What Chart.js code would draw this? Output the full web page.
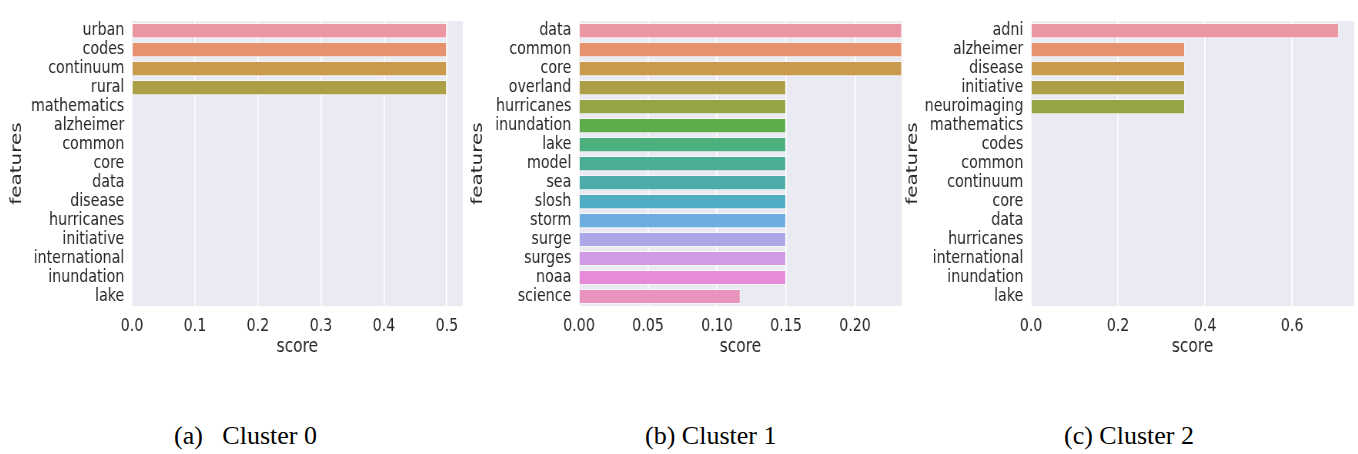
<!DOCTYPE html>
<html>
<head>
<meta charset="utf-8">
<script src="https://cdn.jsdelivr.net/npm/chart.js@4.4.0/dist/chart.umd.min.js"></script>
<style>
    body { margin: 0; background: #fff; width: 1358px; height: 454px; position: relative; overflow: hidden; }
    canvas { position: absolute; top: 0; transform-origin: 0 0; }
    .cap { position: absolute; top: 423px; font: 26px 'Liberation Serif', 'Times New Roman', serif; line-height: 26px; white-space: pre; color: #000; }
</style>
</head>
<body>
<canvas id="c0"></canvas>
<canvas id="c1"></canvas>
<canvas id="c2"></canvas>
<div class="cap" style="left:174px">(a)   Cluster 0</div>
<div class="cap" style="left:645px">(b) Cluster 1</div>
<div class="cap" style="left:1064px">(c) Cluster 2</div>
<script>
// ==================== DATA ====================

const features0 = ['urban', 'codes', 'continuum', 'rural', 'mathematics', 'alzheimer', 'common', 'core',
    'data', 'disease', 'hurricanes', 'initiative', 'international', 'inundation', 'lake'];
const scores0 = [0.5, 0.5, 0.5, 0.5, 0, 0, 0, 0, 0, 0, 0, 0, 0, 0, 0];
const ticks0 = [0, 0.1, 0.2, 0.3, 0.4, 0.5];
const tickLabels0 = ['0.0', '0.1', '0.2', '0.3', '0.4', '0.5'];

const features1 = ['data', 'common', 'core', 'overland', 'hurricanes', 'inundation', 'lake', 'model',
    'sea', 'slosh', 'storm', 'surge', 'surges', 'noaa', 'science'];
const scores1 = [0.234, 0.234, 0.234, 0.15, 0.15, 0.15, 0.15, 0.15, 0.15, 0.15, 0.15, 0.15, 0.15, 0.15, 0.117];
const ticks1 = [0, 0.05, 0.1, 0.15, 0.2];
const tickLabels1 = ['0.00', '0.05', '0.10', '0.15', '0.20'];

const features2 = ['adni', 'alzheimer', 'disease', 'initiative', 'neuroimaging', 'mathematics', 'codes',
    'common', 'continuum', 'core', 'data', 'hurricanes', 'international', 'inundation', 'lake'];
const scores2 = [0.7071, 0.3536, 0.3536, 0.3536, 0.3536, 0, 0, 0, 0, 0, 0, 0, 0, 0, 0];
const ticks2 = [0, 0.2, 0.4, 0.6];
const tickLabels2 = ['0.0', '0.2', '0.4', '0.6'];

const xMax = [0.525, 0.234, 0.7425];

const palette = ['#ea96a3', '#e6926e', '#c99a4b', '#ad9e48', '#95a445', '#5ead4b', '#4baf7e', '#4cad96',
    '#4dabaa', '#50acc2', '#6daee0', '#aca8e8', '#d09ae5', '#e78bd9', '#e994bf'];

// ==================== LAYOUT ====================

// the figure is squeezed horizontally, so draw wide and scale down in x
const SQUEEZE = 0.77;
const H = 380;
const PLOT_TOP = 5;
const PLOT_BOTTOM = 306;

const panels = [
    { id: 'c0', left: 4,   plotLeft: 132,  plotRight: 463,  right: 465,  labels: features0, values: scores0, ticks: ticks0, tickLabels: tickLabels0, max: xMax[0] },
    { id: 'c1', left: 465, plotLeft: 579,  plotRight: 902,  right: 904,  labels: features1, values: scores1, ticks: ticks1, tickLabels: tickLabels1, max: xMax[1] },
    { id: 'c2', left: 900, plotLeft: 1031, plotRight: 1354, right: 1358, labels: features2, values: scores2, ticks: ticks2, tickLabels: tickLabels2, max: xMax[2] }
];

const plotBg = {
    id: 'plotBg',
    beforeDraw(chart) {
        const { ctx, chartArea: a } = chart;
        ctx.save();
        ctx.fillStyle = '#eaeaf2';
        ctx.fillRect(a.left, a.top, a.width, a.height);
        ctx.restore();
    }
};

function makePanel(p) {
    const canvas = document.getElementById(p.id);
    canvas.width = Math.round((p.right - p.left) / SQUEEZE);
    canvas.height = H;
    canvas.style.left = p.left + 'px';
    canvas.style.transform = 'scaleX(' + SQUEEZE + ')';

    const yWidth = (p.plotLeft - p.left) / SQUEEZE;
    const padRight = (p.right - p.plotRight) / SQUEEZE;

    new Chart(canvas.getContext('2d'), {
        type: 'bar',
        data: {
            labels: p.labels,
            datasets: [{
                data: p.values,
                backgroundColor: palette,
                borderColor: 'rgba(255,255,255,0.55)',
                borderWidth: 1,
                barPercentage: 0.8,
                categoryPercentage: 1
            }]
        },
        options: {
            indexAxis: 'y',
            responsive: false,
            animation: false,
            layout: { padding: { top: PLOT_TOP, right: padRight, left: 0, bottom: 0 } },
            plugins: { legend: { display: false }, tooltip: { enabled: false } },
            scales: {
                x: {
                    min: 0,
                    max: p.max,
                    afterBuildTicks: (scale) => { scale.ticks = p.ticks.map(v => ({ value: v })); },
                    afterFit: (scale) => { scale.height = H - PLOT_BOTTOM; },
                    ticks: {
                        autoSkip: false,
                        maxRotation: 0,
                        padding: 9,
                        color: '#262626',
                        font: { family: 'DejaVu Sans', size: 18.5 },
                        callback: (v, i) => p.tickLabels[i]
                    },
                    grid: { color: '#ffffff', lineWidth: 1.6, drawTicks: false },
                    border: { display: false },
                    title: {
                        display: true,
                        text: 'score',
                        color: '#262626',
                        font: { family: 'DejaVu Sans', size: 20 },
                        padding: { top: 0, bottom: 21 }
                    }
                },
                y: {
                    afterFit: (scale) => { scale.width = yWidth; },
                    ticks: {
                        autoSkip: false,
                        padding: 10,
                        color: '#262626',
                        font: { family: 'DejaVu Sans', size: 18.5 }
                    },
                    grid: { display: false, drawTicks: false },
                    border: { display: false },
                    title: {
                        display: true,
                        text: 'features',
                        color: '#262626',
                        font: { family: 'DejaVu Sans', size: 20 },
                        padding: { top: 5, bottom: 0 }
                    }
                }
            }
        },
        plugins: [plotBg]
    });
}

panels.forEach(makePanel);
</script>
</body>
</html>
